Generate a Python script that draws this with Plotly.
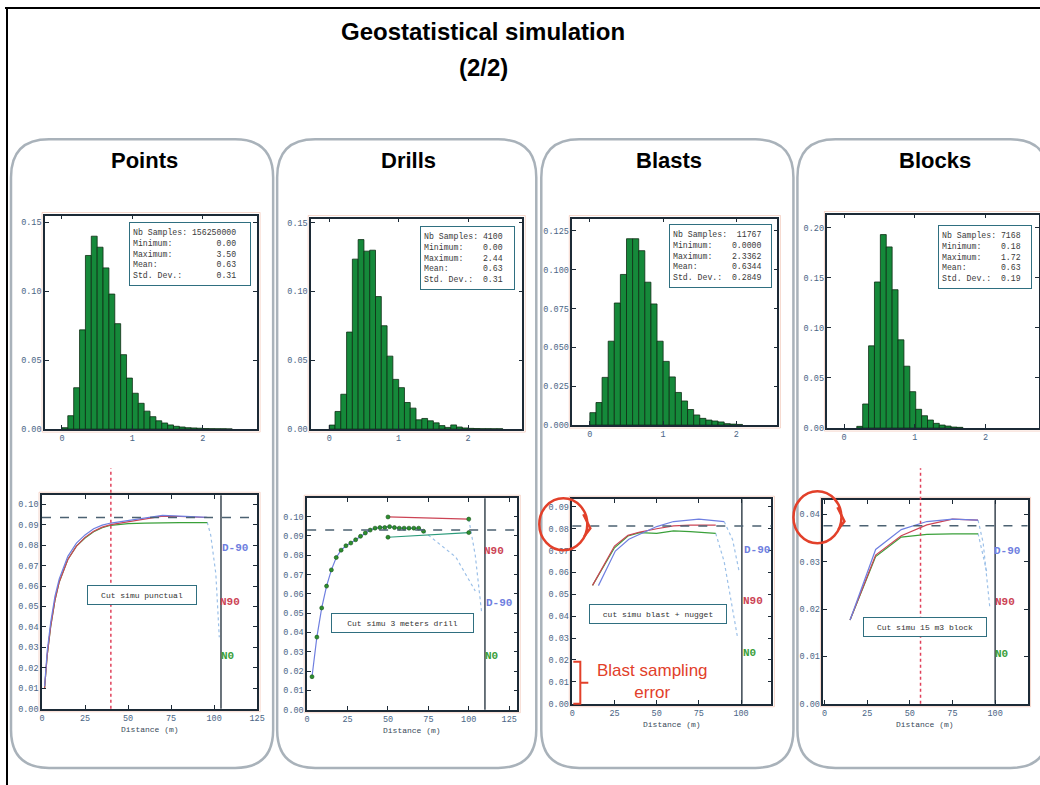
import numpy as np
import plotly.graph_objects as go

# the captured page comes out about 1% smaller than drawn, so slide pixels are mapped
# through that correction before being turned into paper fractions
SX, SY = 0.989, 0.99
BX, BY = 3, 0
W = round((1040 - BX) / SX) + 1
H = round((785 - BY) / SY) + 1


def px(x):
    return (x - BX) / SX / W


def py(y):
    return 1 - (y - BY) / SY / H


# ---------------- data ----------------
panels = ['Points', 'Drills', 'Blasts', 'Blocks']

# histograms (frequency per bin, bin width 1/12)
bin_w = 1 / 12
hist_start = [0.0, 0.0, 0.0, 0.18]
points_freq = [0.001, 0.0097, 0.030, 0.072, 0.126, 0.140, 0.132, 0.117, 0.098, 0.0765,
               0.054, 0.037, 0.026, 0.0187, 0.013, 0.009, 0.006, 0.0044, 0.003, 0.002,
               0.0015, 0.001, 0.0008, 0.0006, 0.0004, 0.0003, 0.0002, 0.0002, 0.0001]
drills_freq = [0.0029, 0.0128, 0.0253, 0.0705, 0.1235, 0.1377, 0.1293, 0.130, 0.0963, 0.0751,
               0.053, 0.0361, 0.0301, 0.0193, 0.0152, 0.0067, 0.0077, 0.006, 0.0045, 0.0025,
               0.0012, 0.003, 0.0015, 0.0008, 0.0005, 0.0004, 0.0003, 0.0003, 0.0002, 0.0002]
blasts_freq = [0.008, 0.0145, 0.0307, 0.054, 0.0786, 0.097, 0.120, 0.120, 0.1123, 0.092,
               0.078, 0.054, 0.041, 0.031, 0.021, 0.0155, 0.010, 0.0065, 0.0043, 0.0032,
               0.0026, 0.002, 0.0009, 0.0006, 0.0004]
blocks_freq = [0.0017, 0.024, 0.082, 0.1457, 0.193, 0.1807, 0.138, 0.088, 0.0617, 0.0363,
               0.0187, 0.0123, 0.008, 0.0047, 0.003, 0.002, 0.001, 0.0007]
hist_freqs = [points_freq, drills_freq, blasts_freq, blocks_freq]

stats_labels = ['Nb Samples:', 'Minimum:', 'Maximum:', 'Mean:', 'Std. Dev.:']
stats_values = [
    ['156250000', '0.00', '3.50', '0.63', '0.31'],
    ['4100', '0.00', '2.44', '0.63', '0.31'],
    ['11767', '0.0000', '2.3362', '0.6344', '0.2849'],
    ['7168', '0.18', '1.72', '0.63', '0.19'],
]

# variograms
pts_lag = [1.5, 3, 5, 7.5, 10, 12.5, 15, 20, 25, 30, 35, 40, 50, 60, 70, 80, 90, 96]
pts_n0 = [0.010, 0.026, 0.040, 0.053, 0.062, 0.068, 0.073, 0.0795, 0.0835, 0.0865,
          0.0885, 0.0897, 0.0905, 0.0908, 0.0910, 0.0910, 0.0910, 0.0910]
pts_n90 = [0.010, 0.026, 0.040, 0.053, 0.062, 0.068, 0.073, 0.0795, 0.0838, 0.0868,
           0.0888, 0.0900, 0.0915, 0.0928, 0.0942, 0.0940, 0.0935, 0.0935]
pts_d90 = [0.011, 0.028, 0.042, 0.055, 0.0635, 0.0695, 0.0745, 0.081, 0.085, 0.088,
           0.0898, 0.0908, 0.0920, 0.0932, 0.0945, 0.0942, 0.0937, 0.0936]

drl_lag = [3, 6, 9, 12, 15, 18, 21, 24, 27, 30, 33, 36, 39, 42, 45, 48, 51, 54, 57, 60,
           63, 66, 69, 72]
drl_d90 = [0.0171, 0.0376, 0.0527, 0.064, 0.0724, 0.0788, 0.0826, 0.0849, 0.0863, 0.088,
           0.0898, 0.0915, 0.093, 0.094, 0.0943, 0.0943, 0.0948, 0.0943, 0.094, 0.094,
           0.094, 0.094, 0.094, 0.0924]
drl_hlag = [50, 100]
drl_n90 = [0.0998, 0.0987]
drl_n0 = [0.0893, 0.0917]

bls_lag = [12, 25, 33, 40, 50, 60, 70, 85]
bls_n0 = [0.0541, 0.0713, 0.0767, 0.0782, 0.0779, 0.0790, 0.0787, 0.0779]
bls_n90 = [0.0541, 0.0721, 0.0770, 0.0785, 0.0800, 0.0813, 0.0817, 0.0817]
bls_dlag = [15.5, 25.5, 33.5, 40.5, 50, 60, 75, 90]
bls_d90 = [0.0540, 0.0698, 0.0752, 0.0778, 0.0810, 0.0833, 0.0844, 0.0833]

blk_lag = [15, 30, 45, 60, 75, 90]
blk_d90 = [0.0177, 0.0326, 0.0368, 0.0385, 0.0390, 0.0388]
blk_n90 = [0.0177, 0.0314, 0.0355, 0.0378, 0.0390, 0.0388]
blk_n0 = [0.0177, 0.0311, 0.0352, 0.0358, 0.0359, 0.0359]

sills = [0.0935, 0.0931, 0.0813, 0.0376]
cut_lines = [104, 110, 100.5, 100]
red_marks = [40, None, None, 56.3]
box_texts = ['Cut simu punctual', 'Cut simu 3 meters drill', 'cut simu blast + nugget',
             'Cut simu 15 m3 block']

# ---------------- styles ----------------
MONO = 'Liberation Mono, DejaVu Sans Mono, monospace'
SANS = 'Liberation Sans, Arial, sans-serif'
FRAME = '#1c2a36'
TICK = '#4a6585'
BAR = '#15893a'
BAR_EDGE = '#0e2d14'
BLUE, RED, GREEN = '#6f7fe0', '#cc4455', '#3aa03a'
DOT = '#9cc0e8'
TEAL = '#2f6f80'
PEN = '#e2402a'

hist_box = [(45, 257, 215, 428), (311, 522, 218, 428), (572, 777, 218, 424), (827, 1038, 214, 427)]
vario_box = [(42, 257, 494, 707), (307, 517, 497, 708), (572, 771, 498, 702), (823, 1027, 499, 702)]
hist_xr = [[-0.24, 2.77], [-0.26, 2.78], [-0.24, 2.56], [-0.235, 2.75]]
hist_yr = [[0, 0.155], [0, 0.153], [0, 0.133], [0, 0.213]]
hist_dt = [0.05, 0.05, 0.025, 0.05]
hist_fmt = ['.2f', '.2f', '.3f', '.2f']
vario_xr = [[0, 125], [0, 130], [0, 118], [-0.6, 119]]
vario_yr = [[0, 0.1044], [0, 0.1095], [0, 0.0935], [0, 0.043]]
panel_x = [(11, 273), (277, 536), (541, 793), (797, 1048)]
stat_box = [(129, 221, 122), (420, 225, 95), (669, 223, 103), (938, 224, 94)]

fig = go.Figure()
layout_axes = {}


def ax_style(domain, rng, **kw):
    d = dict(domain=domain, range=rng, showline=True, mirror='ticks', linecolor=FRAME,
             linewidth=1.5, ticks='inside', ticklen=4, tickcolor=FRAME, showgrid=False,
             zeroline=False, tickfont=dict(family=MONO, size=8.5, color=TICK))
    d.update(kw)
    return d


def add_axes(n, box, xr, yr, xkw, ykw):
    x0, x1, y0, y1 = box
    sx = '' if n == 1 else str(n)
    layout_axes['xaxis' + sx] = ax_style([px(x0), min(px(x1), 1)], xr, anchor='y' + sx, **xkw)
    layout_axes['yaxis' + sx] = ax_style([py(y1), py(y0)], yr, anchor='x' + sx, **ykw)
    return 'x' + sx, 'y' + sx


shapes = []
annotations = []


def note(**kw):
    kw.setdefault('showarrow', False)
    kw.setdefault('xanchor', 'center')
    kw.setdefault('yanchor', 'middle')
    annotations.append(kw)


# slide frame
shapes.append(dict(type='line', xref='paper', yref='paper', x0=px(5), x1=1.02, y0=py(8), y1=py(8),
                   line=dict(color='black', width=2)))
shapes.append(dict(type='line', xref='paper', yref='paper', x0=px(7), x1=px(7), y0=py(8), y1=-0.02,
                   line=dict(color='black', width=2)))


def rounded(x0, y0, x1, y1, r):
    X, Y = px, py
    return (f"M {X(x0 + r)},{Y(y0)} L {X(x1 - r)},{Y(y0)} Q {X(x1)},{Y(y0)} {X(x1)},{Y(y0 + r)} "
            f"L {X(x1)},{Y(y1 - r)} Q {X(x1)},{Y(y1)} {X(x1 - r)},{Y(y1)} "
            f"L {X(x0 + r)},{Y(y1)} Q {X(x0)},{Y(y1)} {X(x0)},{Y(y1 - r)} "
            f"L {X(x0)},{Y(y0 + r)} Q {X(x0)},{Y(y0)} {X(x0 + r)},{Y(y0)} Z")


for (a, b) in panel_x:
    shapes.append(dict(type='path', xref='paper', yref='paper', path=rounded(a, 139, b, 766, 38),
                       line=dict(color='#a9b2ba', width=2.5), layer='below'))

# title
note(text='<b>Geostatistical simulation</b>', x=px(483), y=py(31), xref='paper', yref='paper',
     font=dict(family=SANS, size=24, color='black'))
note(text='<b>(2/2)</b>', x=px(483), y=py(67), xref='paper', yref='paper',
     font=dict(family=SANS, size=24, color='black'))

for i, name in enumerate(panels):
    a, b = panel_x[i]
    cx = (a + b) / 2 + 2 if i < 3 else 935
    note(text=f'<b>{name}</b>', x=px(cx), y=py(160), xref='paper', yref='paper',
         font=dict(family=SANS, size=22, color='black'))

    # ---- histogram
    xa, ya = add_axes(i + 1, hist_box[i], hist_xr[i], hist_yr[i],
                      dict(tickvals=[0, 1, 2]),
                      dict(dtick=hist_dt[i], tickformat=hist_fmt[i]))
    freq = hist_freqs[i]
    centers = hist_start[i] + bin_w * (np.arange(len(freq)) + 0.5)
    fig.add_trace(go.Bar(x=centers, y=freq, width=bin_w, xaxis=xa, yaxis=ya,
                         marker=dict(color=BAR, line=dict(color=BAR_EDGE, width=0.8))))
    lines = [lab.ljust(12) + val.rjust(len(max(stats_values[i], key=len)))
             for lab, val in zip(stats_labels, stats_values[i])]
    sx0, sy0, sw = stat_box[i]
    note(text='<br>'.join(l.replace(' ', '\u00a0') for l in lines),
         x=px(sx0), y=py(sy0), xref='paper', yref='paper', xanchor='left', yanchor='top',
         align='left', width=sw - 8, height=56, bgcolor='white', bordercolor=TEAL,
         borderwidth=1, borderpad=3, font=dict(family=MONO, size=8.2, color='#3a3a3a'))

    # ---- variogram
    xv, yv = add_axes(i + 5, vario_box[i], vario_xr[i], vario_yr[i],
                      dict(dtick=25, tick0=0),
                      dict(dtick=0.01, tickformat='.2f'))
    shapes.append(dict(type='line', xref=xv, yref=yv + ' domain', x0=cut_lines[i], x1=cut_lines[i],
                       y0=0, y1=1, line=dict(color=FRAME, width=1.3)))
    shapes.append(dict(type='line', xref=xv + ' domain', yref=yv, x0=0, x1=1, y0=sills[i],
                       y1=sills[i], line=dict(color='#4c6272', width=1.5, dash='dash')))
    if red_marks[i] is not None:
        shapes.append(dict(type='line', xref=xv, yref='paper', x0=red_marks[i], x1=red_marks[i],
                           y0=py(vario_box[i][3]), y1=py(467),
                           line=dict(color='#e0405a', width=1.5, dash='dot')))
    note(text='Distance (m)', xref=xv + ' domain', yref='paper', x=0.5,
         y=py(vario_box[i][3] + 21), font=dict(family=MONO, size=8, color='#3a4a5a'))
    for sb in (hist_box[i], vario_box[i]):
        shapes.append(dict(type='rect', xref='paper', yref='paper', x0=px(sb[0] - 3), x1=px(sb[1] + 3),
                           y0=py(sb[3] + 3), y1=py(sb[2] - 3),
                           line=dict(color='rgba(230,140,110,0.35)', width=1)))


def curve(x, y, color, xa, ya, dash=None, width=1.2, markers=False):
    fig.add_trace(go.Scatter(x=x, y=y, xaxis=xa, yaxis=ya,
                             mode='lines+markers' if markers else 'lines',
                             line=dict(color=color, width=width, dash=dash),
                             marker=dict(color='#2d8f2d', size=4, line=dict(color='#14501a', width=0.6))))


# Points
curve([96, 98, 101, 103], [0.0912, 0.085, 0.066, 0.035], DOT, 'x5', 'y5', dash='dot')
curve(pts_lag, pts_n0, GREEN, 'x5', 'y5')
curve(pts_lag, pts_n90, RED, 'x5', 'y5')
curve(pts_lag, pts_d90, BLUE, 'x5', 'y5')
# Drills
curve([72, 92, 104], [0.0924, 0.079, 0.0615], DOT, 'x6', 'y6', dash='dot')
curve([100, 104, 108], [0.0987, 0.08, 0.05], DOT, 'x6', 'y6', dash='dot')
curve(drl_hlag, drl_n90, RED, 'x6', 'y6', markers=True)
curve(drl_hlag, drl_n0, '#2a9a7a', 'x6', 'y6', markers=True)
curve(drl_lag, drl_d90, BLUE, 'x6', 'y6', markers=True)
# Blasts
curve([85, 90, 98], [0.0779, 0.065, 0.030], DOT, 'x7', 'y7', dash='dot')
curve([90, 95, 99], [0.0833, 0.075, 0.060], DOT, 'x7', 'y7', dash='dot')
curve(bls_lag, bls_n0, GREEN, 'x7', 'y7')
curve(bls_lag, bls_n90, RED, 'x7', 'y7')
curve(bls_dlag, bls_d90, BLUE, 'x7', 'y7')
# Blocks
curve([90, 93, 97], [0.0388, 0.034, 0.020], DOT, 'x8', 'y8', dash='dot')
curve([90, 95], [0.036, 0.028], DOT, 'x8', 'y8', dash='dot')
curve(blk_lag, blk_n0, GREEN, 'x8', 'y8')
curve(blk_lag, blk_n90, RED, 'x8', 'y8')
curve(blk_lag, blk_d90, BLUE, 'x8', 'y8')

# direction labels and caption boxes
dir_pos = [
    [(112, 0.0787), (109.5, 0.052), (108, 0.0256)],
    [(118.4, 0.0553), (115.7, 0.0823), (114.2, 0.028)],
    [(109.3, 0.0701), (107.3, 0.0468), (105, 0.023)],
    [(107, 0.0322), (106, 0.0216), (104, 0.0106)],
]
box_pos = [(58, 0.0555, 104), (58.7, 0.045, 137), (50.7, 0.041, 132), (58.7, 0.0163, 118)]
for i in range(4):
    xv, yv = 'x' + str(i + 5), 'y' + str(i + 5)
    for (lx, ly), lab, col in zip(dir_pos[i], ['D-90', 'N90', 'N0'], [BLUE, RED, GREEN]):
        note(text=f'<b>{lab}</b>', x=lx, y=ly, xref=xv, yref=yv,
             font=dict(family=MONO, size=11, color=col))
    bx, by, bw = box_pos[i]
    note(text=box_texts[i], x=bx, y=by, xref=xv, yref=yv, width=bw, height=14, bgcolor='white',
         bordercolor=TEAL, borderwidth=1, borderpad=2, font=dict(family=MONO, size=8, color='#333'))

# red hand-drawn highlights
for cx, cy in [(563, 523), (817, 516)]:
    shapes.append(dict(type='circle', xref='paper', yref='paper', x0=px(cx - 24), x1=px(cx + 24),
                       y0=py(cy + 26), y1=py(cy - 26), line=dict(color=PEN, width=2.5)))
    shapes.append(dict(type='path', xref='paper', yref='paper',
                       path=f"M {px(cx + 20)},{py(cy - 10)} L {px(cx + 27)},{py(cy + 4)} "
                            f"L {px(cx + 21)},{py(cy + 12)}",
                       line=dict(color=PEN, width=2.5)))
shapes.append(dict(type='path', xref='paper', yref='paper',
                   path=f"M {px(573)},{py(660)} L {px(580)},{py(660)} L {px(580)},{py(702)} "
                        f"L {px(573)},{py(702)} M {px(580)},{py(681)} L {px(588)},{py(681)}",
                   line=dict(color=PEN, width=2)))
note(text='Blast sampling<br>error', x=px(652), y=py(680), xref='paper', yref='paper',
     font=dict(family=SANS, size=17, color=PEN))

fig.update_layout(
    width=W, height=H, margin=dict(l=0, r=0, t=0, b=0),
    paper_bgcolor='white', plot_bgcolor='white', showlegend=False,
    shapes=shapes, annotations=annotations, **layout_axes,
)

# drop the default page margin so the figure starts at the window corner
fig.write_html('out.html', config={'displayModeBar': False},
               post_script="document.body.style.margin = '0';")
